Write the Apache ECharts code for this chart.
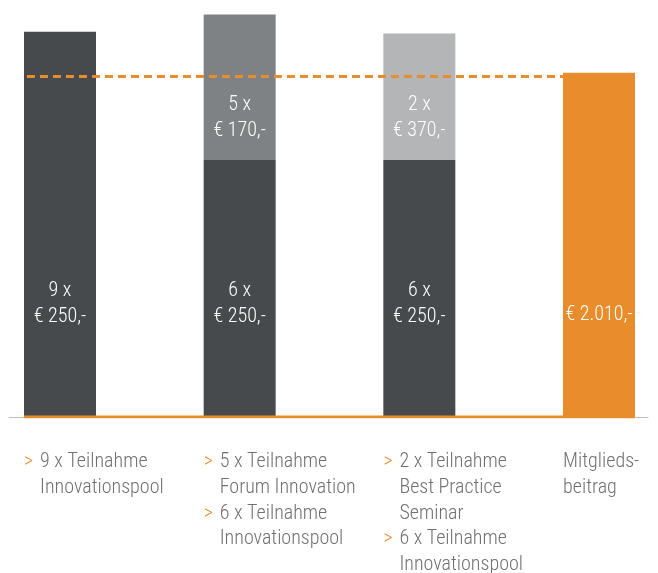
<!DOCTYPE html>
<html>
<head>
<meta charset="utf-8">
<script src="https://cdn.jsdelivr.net/npm/echarts@6/dist/echarts.min.js"></script>
<style>
    html, body { margin: 0; padding: 0; background: #fff; }
    #chart { width: 658px; height: 573px; }
</style>
</head>
<body>
<div id="chart"></div>
<script>
/* ===== Data ===== */
const categories = ['Innovationspool', 'Forum Innovation', 'Best Practice', 'Mitgliedsbeitrag'];

// dark bottom part: participations in Innovationspool
const baseCounts = [9, 6, 6, null];
const basePrices = [250, 250, 250, null];
const baseValues = [2250, 1500, 1500, '-'];

// lighter top part (bar 2 and 3)
const extraCounts = [null, 5, 2, null];
const extraPrices = [null, 170, 370, null];
const extraValues = ['-', 850, 740, '-'];
const extraColors = [null, '#7f8285', '#b3b5b6', null];

// membership fee
const feeValues = ['-', '-', '-', 2010];
const feeText = '€ 2.010,-';
const feeLineValue = 1990;

// captions below the bars
const captions = [
    [['9 x Teilnahme', 'Innovationspool']],
    [['5 x Teilnahme', 'Forum Innovation'], ['6 x Teilnahme', 'Innovationspool']],
    [['2 x Teilnahme', 'Best Practice', 'Seminar'], ['6 x Teilnahme', 'Innovationspool']],
    [['Mitglieds-', 'beitrag']]
];
const captionHasArrow = [true, true, true, false];
const captionStarts = [-0.2, 0.8, 1.8, 2.8];

/* ===== Chart ===== */
const FONT = "'Roboto Condensed', Roboto, sans-serif";
const FONT_SIZE = 20;
const DARK = '#474a4d';
const ORANGE = '#e98c2c';

const chart = echarts.init(document.getElementById('chart'));

function captionText(i) {
    const out = [];
    captions[i].forEach(group => {
        group.forEach((line, k) => {
            if (!captionHasArrow[i]) out.push('{t|' + line + '}');
            else if (k === 0) out.push('{a|>}{t|' + line + '}');
            else out.push('{s| }{t|' + line + '}');
        });
    });
    return out.join('\n');
}

const labelStyle = {
    show: true,
    color: '#fff',
    fontFamily: FONT,
    fontWeight: 300,
    fontSize: FONT_SIZE,
    lineHeight: 26,
    align: 'center'
};

const option = {
    animation: false,
    grid: [
        // bars: first and last category sit on the grid edges
        { left: 60, right: 59, top: 0, bottom: 156, outerBoundsMode: 'none' },
        // baseline, dashed line and captions
        { left: 9, right: 10, top: 0, bottom: 156, outerBoundsMode: 'none' }
    ],
    xAxis: [
        {
            type: 'category',
            gridIndex: 0,
            data: categories,
            boundaryGap: false,
            axisLine: { show: false },
            axisTick: { show: false },
            axisLabel: { show: false }
        },
        {
            type: 'value',
            gridIndex: 1,
            min: -0.2839,
            max: 3.2727,
            splitLine: { show: false },
            axisTick: { show: false },
            axisLine: { show: true, lineStyle: { color: '#bdbdbd', width: 1 } },
            axisLabel: {
                show: true,
                customValues: captionStarts,
                margin: 32,
                align: 'left',
                verticalAlign: 'top',
                formatter: v => captionText(captionStarts.findIndex(c => Math.abs(c - v) < 0.01)),
                rich: {
                    a: { color: ORANGE, fontFamily: FONT, fontWeight: 300, fontSize: FONT_SIZE, lineHeight: 25.8, width: 16 },
                    s: { fontFamily: FONT, fontSize: FONT_SIZE, lineHeight: 25.8, width: 16 },
                    t: { color: '#6f7072', fontFamily: FONT, fontWeight: 300, fontSize: FONT_SIZE, lineHeight: 25.8 }
                }
            }
        }
    ],
    yAxis: [
        { type: 'value', gridIndex: 0, min: 0, max: 2435, show: false, splitLine: { show: false } },
        { type: 'value', gridIndex: 1, min: 0, max: 2435, show: false, splitLine: { show: false } }
    ],
    series: [
        {
            name: 'Innovationspool',
            type: 'bar',
            stack: 'total',
            barWidth: 72,
            clip: false,
            itemStyle: { color: DARK },
            label: Object.assign({}, labelStyle, {
                position: 'insideBottom',
                distance: 87,
                formatter: p => baseCounts[p.dataIndex] + ' x\n€ ' + basePrices[p.dataIndex] + ',-'
            }),
            data: baseValues
        },
        {
            name: 'Weitere',
            type: 'bar',
            stack: 'total',
            barWidth: 72,
            clip: false,
            label: Object.assign({}, labelStyle, {
                position: 'insideBottom',
                distance: 16,
                formatter: p => extraCounts[p.dataIndex] + ' x\n€ ' + extraPrices[p.dataIndex] + ',-'
            }),
            data: extraValues.map((v, i) => ({
                value: v,
                itemStyle: { color: extraColors[i] || DARK }
            }))
        },
        {
            name: 'Mitgliedsbeitrag',
            type: 'bar',
            stack: 'total',
            barWidth: 72,
            clip: false,
            itemStyle: { color: ORANGE },
            label: Object.assign({}, labelStyle, {
                position: 'insideBottom',
                distance: 89,
                formatter: () => feeText
            }),
            data: feeValues
        },
        {
            // orange baseline under the bars, plus the dashed fee line
            name: 'Basis',
            type: 'line',
            xAxisIndex: 1,
            yAxisIndex: 1,
            z: 5,
            silent: true,
            showSymbol: false,
            lineStyle: { color: ORANGE, width: 3 },
            data: [[-0.2, 0], [3.2, 0]],
            markLine: {
                silent: true,
                symbol: 'none',
                label: { show: false },
                lineStyle: { color: ORANGE, width: 3, type: [8, 5] },
                data: [[
                    { coord: [-0.184, feeLineValue] },
                    { coord: [3.217, feeLineValue] }
                ]]
            }
        }
    ]
};

chart.setOption(option);
window.addEventListener('resize', () => chart.resize());
</script>
</body>
</html>
